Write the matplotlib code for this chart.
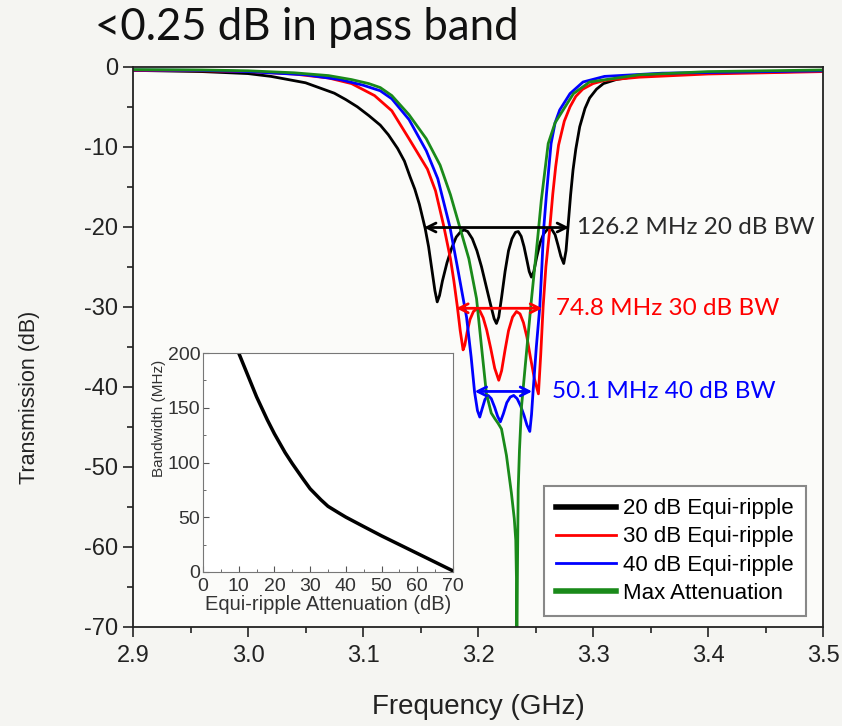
import matplotlib.pyplot as plt
from matplotlib.lines import Line2D
from matplotlib.ticker import MultipleLocator

plt.rcParams['font.family'] = ['Liberation Sans', 'DejaVu Sans']
plt.rcParams['axes.unicode_minus'] = False

# 20 dB equi-ripple response
freq_20 = [2.90, 2.96, 3.00, 3.02, 3.05, 3.075, 3.085, 3.095, 3.105, 3.115, 3.122, 3.13,
           3.136, 3.141, 3.145, 3.149, 3.154, 3.157, 3.160, 3.1625, 3.1645, 3.1665, 3.169,
           3.173, 3.177, 3.181, 3.185, 3.188, 3.191, 3.195, 3.199, 3.203, 3.207, 3.211,
           3.214, 3.216, 3.218, 3.2205, 3.2235, 3.2265, 3.2295, 3.2325, 3.235, 3.2375,
           3.240, 3.2425, 3.2445, 3.2464, 3.2485, 3.251, 3.254, 3.257, 3.2605, 3.264,
           3.267, 3.2695, 3.272, 3.2745, 3.2765, 3.2785, 3.2805, 3.2826, 3.285, 3.2884,
           3.293, 3.297, 3.303, 3.309, 3.32, 3.335, 3.37, 3.43, 3.50]
s21_20 = [-0.45, -0.6, -0.85, -1.2, -2.0, -3.3, -4.1, -5.0, -6.1, -7.3, -8.5, -10.2,
          -11.8, -13.8, -15.3, -17.2, -20.2, -22.5, -25.5, -28.0, -29.4, -28.6, -26.8,
          -24.5, -22.7, -21.3, -20.6, -20.4, -20.6, -21.5, -23.0, -25.0, -27.4, -29.8,
          -31.5, -32.1, -31.3, -28.8, -25.6, -23.0, -21.5, -20.7, -20.6, -21.2,
          -22.5, -24.2, -25.6, -26.3, -25.6, -23.8, -22.0, -20.9, -20.3, -20.3,
          -21.0, -22.3, -23.7, -24.6, -23.0, -19.5, -16.0, -12.9, -10.3, -7.5,
          -5.2, -3.9, -2.8, -2.1, -1.6, -1.25, -0.9, -0.7, -0.55]

# 30 dB equi-ripple response
freq_30 = [2.90, 2.96, 3.00, 3.04, 3.07, 3.09, 3.11, 3.125, 3.14, 3.156, 3.163, 3.170,
           3.176, 3.179, 3.182, 3.1845, 3.187, 3.1885, 3.1905, 3.193, 3.196, 3.1987,
           3.2015, 3.2045, 3.2075, 3.211, 3.2145, 3.218, 3.2205, 3.2235, 3.2265, 3.230,
           3.2334, 3.2365, 3.2395, 3.2425, 3.2455, 3.249, 3.2525, 3.2545, 3.2566, 3.259,
           3.262, 3.265, 3.2675, 3.270, 3.275, 3.280, 3.285, 3.291, 3.30, 3.31, 3.34,
           3.40, 3.50]
s21_30 = [-0.45, -0.5, -0.6, -0.9, -1.4, -2.1, -3.6, -5.5, -9.0, -12.8, -15.5, -19.8,
          -24.0, -26.8, -30.0, -33.0, -35.4, -34.8, -33.2, -31.6, -30.6, -30.3,
          -30.5, -31.4, -32.9, -35.2, -37.7, -39.2, -38.0, -35.4, -33.0, -31.3,
          -30.6, -30.9, -32.0, -33.8, -36.3, -39.0, -40.9, -36.0, -30.0, -25.0,
          -20.8, -15.9, -12.5, -9.8, -6.8, -5.0, -3.7, -2.8, -2.1, -1.7, -1.3,
          -0.9, -0.6]

# 40 dB equi-ripple response
freq_40 = [2.90, 2.96, 3.00, 3.05, 3.08, 3.10, 3.115, 3.125, 3.14, 3.155, 3.165, 3.1755,
           3.182, 3.19, 3.194, 3.197, 3.1995, 3.2015, 3.2035, 3.206, 3.2088, 3.2115,
           3.2145, 3.217, 3.2194, 3.222, 3.225, 3.228, 3.231, 3.234, 3.237, 3.240,
           3.2425, 3.245, 3.2465, 3.2478, 3.2507, 3.2537, 3.2555, 3.257, 3.2595, 3.2635,
           3.267, 3.271, 3.280, 3.2913, 3.31, 3.36, 3.50]
s21_40 = [-0.4, -0.45, -0.6, -1.0, -1.6, -2.3, -3.0, -4.0, -6.6, -10.5, -14.0, -20.0,
          -25.0, -31.3, -36.3, -40.7, -43.0, -43.8, -42.8, -41.6, -41.1, -41.5,
          -42.6, -43.7, -44.4, -43.4, -42.0, -41.3, -41.1, -41.5, -42.4, -43.6,
          -44.8, -45.6, -43.5, -40.7, -35.0, -30.0, -25.0, -20.4, -15.9, -9.6,
          -7.0, -5.4, -3.35, -1.9, -1.2, -0.8, -0.5]

# maximum attenuation response
freq_max = [2.90, 2.96, 3.00, 3.04, 3.07, 3.09, 3.105, 3.115, 3.125, 3.14, 3.155, 3.167,
            3.176, 3.184, 3.192, 3.1987, 3.203, 3.2073, 3.2115, 3.2146, 3.2175, 3.2204,
            3.2247, 3.229, 3.2315, 3.2328, 3.2334, 3.2337, 3.2342, 3.2349, 3.236, 3.2378,
            3.242, 3.2465, 3.2522, 3.255, 3.261, 3.267, 3.274, 3.283, 3.297, 3.34, 3.40,
            3.50]
s21_max = [-0.35, -0.4, -0.5, -0.75, -1.1, -1.6, -2.1, -2.6, -3.6, -6.0, -9.0, -12.3,
           -16.0, -20.0, -24.0, -29.0, -35.0, -40.9, -43.3, -44.0, -44.6, -45.3,
           -48.6, -53.3, -56.5, -59.2, -64.0, -75.0, -64.0, -52.9, -48.0, -42.5,
           -35.9, -29.0, -20.9, -16.7, -9.6, -7.0, -5.4, -3.35, -1.9, -1.0, -0.6,
           -0.4]

# arrows: left end, level and bandwidth of each
bw_start = [3.153, 3.181, 3.197]
bw_level = [-20.1, -30.2, -40.6]
bw_mhz_marks = [126.2, 74.8, 50.1]
bw_labels = ['126.2 MHz 20 dB BW', '74.8 MHz 30 dB BW', '50.1 MHz 40 dB BW']

# inset: bandwidth versus equi-ripple attenuation
att_db = [10, 12, 15, 18, 20, 23, 25, 28, 30, 33, 35, 38, 40, 45, 50, 55, 60, 65, 70]
bw_mhz = [200, 184, 160, 139, 126.2, 109, 99, 85, 76, 66, 60, 54, 50.1, 41.5, 33, 25,
          17, 9, 1]

colors = ['black', '#ff0000', '#0000ff', '#1a8a1a']
names = ['20 dB Equi-ripple', '30 dB Equi-ripple', '40 dB Equi-ripple', 'Max Attenuation']

fig = plt.figure(figsize=(8.42, 7.26), dpi=100)
fig.patch.set_facecolor('#f5f5f2')
ax = fig.add_axes([0.158, 0.137, 0.8195, 0.771])
ax.set_facecolor('#fbfbf9')

curves = [(freq_20, s21_20), (freq_30, s21_30), (freq_40, s21_40), (freq_max, s21_max)]
for (f, s), c in zip(curves, colors):
    ax.plot(f, s, color=c, lw=2, solid_joinstyle='round')

ax.set_xlim(2.9, 3.5)
ax.set_ylim(-70, 0)
ax.xaxis.set_major_locator(MultipleLocator(0.1))
ax.xaxis.set_minor_locator(MultipleLocator(0.05))
ax.yaxis.set_major_locator(MultipleLocator(10))
ax.yaxis.set_minor_locator(MultipleLocator(5))
ax.xaxis.set_major_formatter(plt.FormatStrFormatter('%.1f'))
ax.tick_params(which='major', length=7, width=1.3, labelsize=17, color='#333333',
               labelcolor='#222222')
ax.tick_params(which='minor', length=4, width=1.3, color='#333333')
ax.tick_params(axis='x', pad=6)
for sp in ax.spines.values():
    sp.set_linewidth(1.3)
    sp.set_color('#222222')
ax.set_xlabel('Frequency (GHz)', fontsize=20, labelpad=20, color='#222222')
ax.set_ylabel('Transmission (dB)', fontsize=15.5, color='#222222')
ax.yaxis.set_label_coords(-0.135, 0.41)

for x0, lev, bw, lab, c, off in zip(bw_start, bw_level, bw_mhz_marks, bw_labels,
                                    colors, [6, 10, 14]):
    x1 = x0 + bw / 1000
    ax.annotate('', xy=(x1, lev), xytext=(x0, lev),
                arrowprops=dict(arrowstyle='<->', color=c, lw=2, mutation_scale=16,
                                shrinkA=0, shrinkB=0))
    ax.annotate(lab, xy=(x1, lev), xytext=(off, 0), textcoords='offset points',
                va='center', ha='left', fontsize=17.5,
                color=c if c != 'black' else '#2a2a2a', family=['Lato', 'DejaVu Sans'])

handles = [Line2D([], [], color=c, lw=w) for c, w in zip(colors, [4, 2, 2, 4])]
leg = ax.legend(handles, names, loc='lower right', bbox_to_anchor=(0.975, 0.019),
                fontsize=16, handlelength=2.7, handletextpad=0.3, labelspacing=0.32,
                fancybox=False, edgecolor='#888888', framealpha=1, borderpad=0.55,
                borderaxespad=0)
leg.get_frame().set_linewidth(1.5)

# inset
ax_in = fig.add_axes([203 / 842, 1 - 572 / 726, 250 / 842, 219 / 726])
ax_in.set_facecolor('white')
ax_in.plot(att_db, bw_mhz, color='black', lw=2.5)
ax_in.set_xlim(0, 70)
ax_in.set_ylim(0, 200)
ax_in.xaxis.set_major_locator(MultipleLocator(10))
ax_in.xaxis.set_minor_locator(MultipleLocator(5))
ax_in.yaxis.set_major_locator(MultipleLocator(50))
ax_in.yaxis.set_minor_locator(MultipleLocator(25))
ax_in.tick_params(which='both', direction='in', labelsize=14, color='#555555',
                  labelcolor='#333333')
ax_in.tick_params(axis='x', pad=4)
ax_in.tick_params(axis='y', pad=2)
ax_in.tick_params(which='major', length=4)
ax_in.tick_params(which='minor', length=2)
for sp in ax_in.spines.values():
    sp.set_color('#777777')
ax_in.set_xlabel('Equi-ripple Attenuation (dB)', fontsize=14.5, labelpad=0,
                 color='#333333')
ax_in.set_ylabel('Bandwidth (MHz)', fontsize=11, labelpad=2, color='#333333')
ax_in.yaxis.set_label_coords(-0.15, 0.7)

fig.text(95 / 842, 1 - 27 / 726, '<0.25 dB in pass band', fontsize=31.5,
         family=['Lato', 'DejaVu Sans'], va='center', ha='left', color='#111111')

fig.savefig('out.png', dpi=100, facecolor=fig.get_facecolor())
